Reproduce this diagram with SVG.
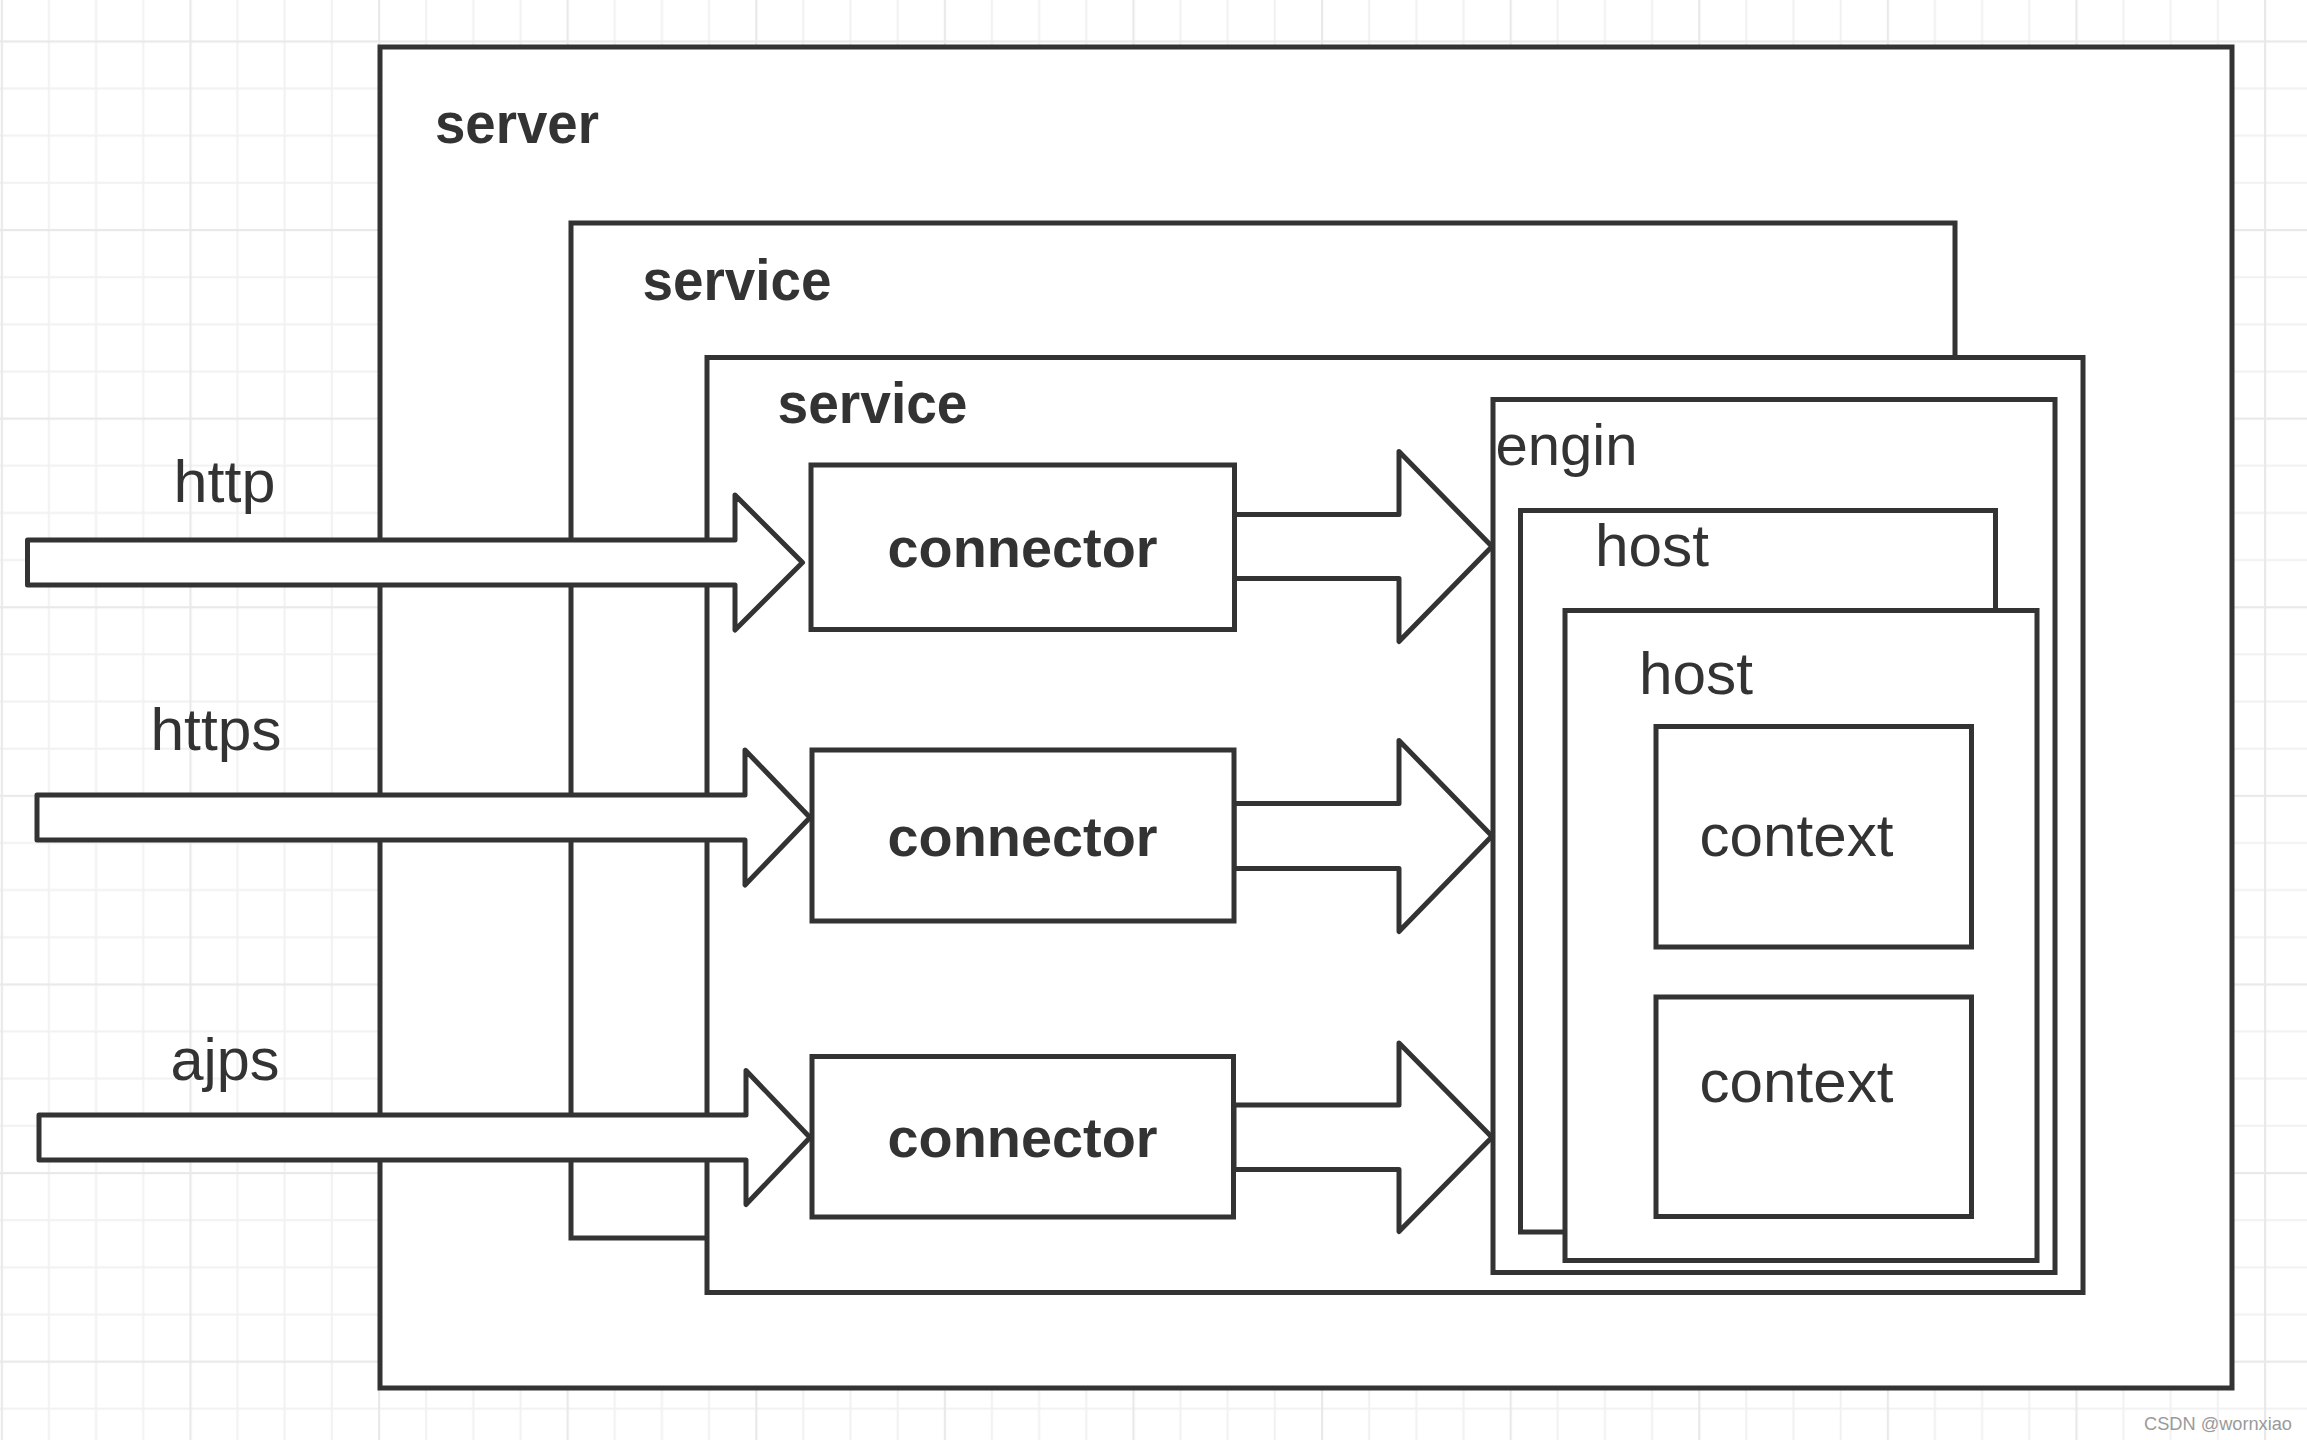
<svg xmlns="http://www.w3.org/2000/svg" width="2307" height="1440" viewBox="0 0 2307 1440">
<style>
.box{fill:#ffffff;stroke:#333333;stroke-width:5}
.arr{fill:#ffffff;stroke:#333333;stroke-width:5;stroke-linejoin:round}
.bl{font-family:"Liberation Sans",Arial,Helvetica,sans-serif;font-weight:bold;fill:#333333}
.rg{font-family:"Liberation Sans",Arial,Helvetica,sans-serif;fill:#333333}
</style>
<defs>
<pattern id="grid" patternUnits="userSpaceOnUse" x="0.8" y="40.4" width="188.6" height="188.6">
<rect x="47.15" y="0" width="2" height="188.6" fill="#f1f1f1"/>
<rect x="94.3" y="0" width="2" height="188.6" fill="#f1f1f1"/>
<rect x="141.45" y="0" width="2" height="188.6" fill="#f1f1f1"/>
<rect x="0" y="47.15" width="188.6" height="2" fill="#f1f1f1"/>
<rect x="0" y="94.3" width="188.6" height="2" fill="#f1f1f1"/>
<rect x="0" y="141.45" width="188.6" height="2" fill="#f1f1f1"/>
<rect x="0" y="0" width="2.2" height="188.6" fill="#e9e9e9"/>
<rect x="0" y="0" width="188.6" height="2.2" fill="#e9e9e9"/>
</pattern>
</defs>
<rect x="0" y="0" width="2307" height="1440" fill="#ffffff"/>
<rect x="0" y="0" width="2307" height="1440" fill="url(#grid)"/>

<g id="server">
<rect class="box" x="380" y="47" width="1852" height="1341"/>
<text class="bl" x="435" y="142.7" font-size="58" textLength="164" lengthAdjust="spacingAndGlyphs">server</text>
</g>

<g id="service-1">
<rect class="box" x="571" y="223" width="1384" height="1015"/>
<text class="bl" x="642.5" y="300" font-size="58" textLength="189" lengthAdjust="spacingAndGlyphs">service</text>
</g>

<g id="service-2">
<rect class="box" x="707" y="357.5" width="1376" height="935"/>
<text class="bl" x="777.5" y="423.3" font-size="58" textLength="190" lengthAdjust="spacingAndGlyphs">service</text>
</g>

<g id="connectors">
<polygon class="arr" points="27.5,540 735,540 735,495 802.5,562.5 735,630 735,585 27.5,585"/>
<text class="rg" x="173.5" y="501.7" font-size="59" textLength="102" lengthAdjust="spacingAndGlyphs">http</text>
<polygon class="arr" points="37,795 745,795 745,750 810,817.5 745,885 745,840 37,840"/>
<text class="rg" x="150.5" y="750" font-size="59" textLength="131" lengthAdjust="spacingAndGlyphs">https</text>
<polygon class="arr" points="39,1115 746,1115 746,1070.5 810,1137.5 746,1204.5 746,1160 39,1160"/>
<text class="rg" x="170.5" y="1080" font-size="59" textLength="109" lengthAdjust="spacingAndGlyphs">ajps</text>
<polygon class="arr" points="1234,514.5 1399,514.5 1399,451.5 1492,546.5 1399,641.5 1399,578.5 1234,578.5"/>
<polygon class="arr" points="1234,803.5 1399,803.5 1399,740.5 1492,836 1399,931.5 1399,868.5 1234,868.5"/>
<polygon class="arr" points="1234,1105 1399,1105 1399,1043 1492,1137.3 1399,1231.5 1399,1169.5 1234,1169.5"/>
</g>

<g id="connector-1">
<rect class="box" x="811" y="465" width="423.5" height="164.5"/>
<text class="bl" x="1022.5" y="567" font-size="56" text-anchor="middle" textLength="270" lengthAdjust="spacingAndGlyphs">connector</text>
</g>
<g id="connector-2">
<rect class="box" x="812" y="750" width="422" height="171"/>
<text class="bl" x="1022.5" y="855.8" font-size="56" text-anchor="middle" textLength="270" lengthAdjust="spacingAndGlyphs">connector</text>
</g>
<g id="connector-3">
<rect class="box" x="812" y="1056.5" width="421.5" height="160.5"/>
<text class="bl" x="1022.5" y="1157" font-size="56" text-anchor="middle" textLength="270" lengthAdjust="spacingAndGlyphs">connector</text>
</g>

<g id="engin">
<rect class="box" x="1493" y="399.5" width="562" height="873"/>
<text class="rg" x="1495.5" y="465" font-size="58" textLength="142" lengthAdjust="spacingAndGlyphs">engin</text>
</g>
<g id="host-1">
<rect class="box" x="1520.5" y="510.5" width="475" height="721.5"/>
<text class="rg" x="1595" y="566.4" font-size="59" textLength="114" lengthAdjust="spacingAndGlyphs">host</text>
</g>
<g id="host-2">
<rect class="box" x="1565" y="610.5" width="472" height="650"/>
<text class="rg" x="1639" y="693.6" font-size="59" textLength="114" lengthAdjust="spacingAndGlyphs">host</text>
</g>
<g id="context-1">
<rect class="box" x="1656" y="726.5" width="315.5" height="220.5"/>
<text class="rg" x="1699.5" y="856" font-size="59" textLength="194" lengthAdjust="spacingAndGlyphs">context</text>
</g>
<g id="context-2">
<rect class="box" x="1656" y="997" width="315.5" height="219.5"/>
<text class="rg" x="1699.5" y="1101.5" font-size="59" textLength="194" lengthAdjust="spacingAndGlyphs">context</text>
</g>

<text class="rg" x="2144" y="1430" font-size="18" fill="#9a9a9a" style="fill:#9a9a9a" textLength="148" lengthAdjust="spacingAndGlyphs">CSDN @wornxiao</text>
</svg>
